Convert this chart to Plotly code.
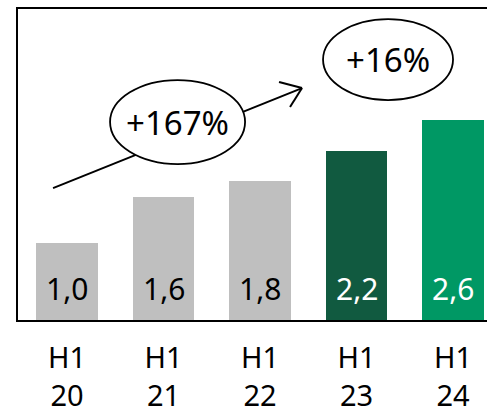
import plotly.graph_objects as go

# Half-year figures
periods = ["H1<br>20", "H1<br>21", "H1<br>22", "H1<br>23", "H1<br>24"]
values = [1.0, 1.6, 1.8, 2.2, 2.6]
bar_colors = ["#BFBFBF", "#BFBFBF", "#BFBFBF", "#115A40", "#009864"]
label_colors = ["#000000", "#000000", "#000000", "#FFFFFF", "#FFFFFF"]

# Growth callouts
growth_labels = ["+167%", "+16%"]

FONT = "Noto Sans"

x_idx = list(range(len(periods)))

fig = go.Figure()
fig.add_trace(go.Bar(
    x=x_idx,
    y=values,
    width=0.64,
    marker=dict(color=bar_colors, line=dict(width=0)),
    hoverinfo="skip",
))

# Value labels sitting near the base of each bar
for i, v in enumerate(values):
    fig.add_annotation(
        x=i, y=0, xref="x", yref="y",
        text=f"{v:.1f}".replace(".", ","),
        showarrow=False, yanchor="middle", yshift=32,
        font=dict(family=FONT, size=30, color=label_colors[i]),
    )

# Trend arrow (drawn before the ellipses so they cover it)
line_style = dict(color="#000000", width=2)
fig.add_shape(type="line", xref="x", yref="y",
              x0=-0.145, y0=1.714, x1=2.435, y1=3.013, line=line_style)
fig.add_shape(type="line", xref="x", yref="y",
              x0=2.197, y0=3.091, x1=2.435, y1=3.013, line=line_style)
fig.add_shape(type="line", xref="x", yref="y",
              x0=2.311, y0=2.766, x1=2.435, y1=3.013, line=line_style)

# Growth ellipses
ellipses = [
    dict(x0=0.446, x1=1.845, y0=2.026, y1=3.117),
    dict(x0=2.653, x1=4.0, y0=2.857, y1=3.909),
]
for e, txt in zip(ellipses, growth_labels):
    fig.add_shape(type="circle", xref="x", yref="y", fillcolor="#FFFFFF",
                  line=dict(color="#000000", width=1.8), **e)
    fig.add_annotation(
        x=(e["x0"] + e["x1"]) / 2, y=(e["y0"] + e["y1"]) / 2,
        xref="x", yref="y", text=txt, showarrow=False,
        font=dict(family=FONT, size=33, color="#000000"),
    )

fig.update_layout(
    width=487, height=414,
    margin=dict(l=18, r=0, t=9, b=94),
    paper_bgcolor="#FFFFFF", plot_bgcolor="#FFFFFF",
    showlegend=False,
    font=dict(family=FONT, size=29, color="#000000"),
    bargap=0,
)
fig.update_xaxes(
    range=[-0.508, 4.352],
    tickmode="array", tickvals=x_idx, ticktext=periods,
    showline=True, mirror=True, linecolor="#000000", linewidth=2,
    showgrid=False, zeroline=False, ticks="",
    ticklabelstandoff=11,
    tickfont=dict(family=FONT, size=29, color="#000000"),
)
fig.update_yaxes(
    range=[0, 4.04],
    showline=True, mirror=False, linecolor="#000000", linewidth=2,
    showgrid=False, zeroline=False, showticklabels=False, ticks="",
)

fig.write_html("out.html")
